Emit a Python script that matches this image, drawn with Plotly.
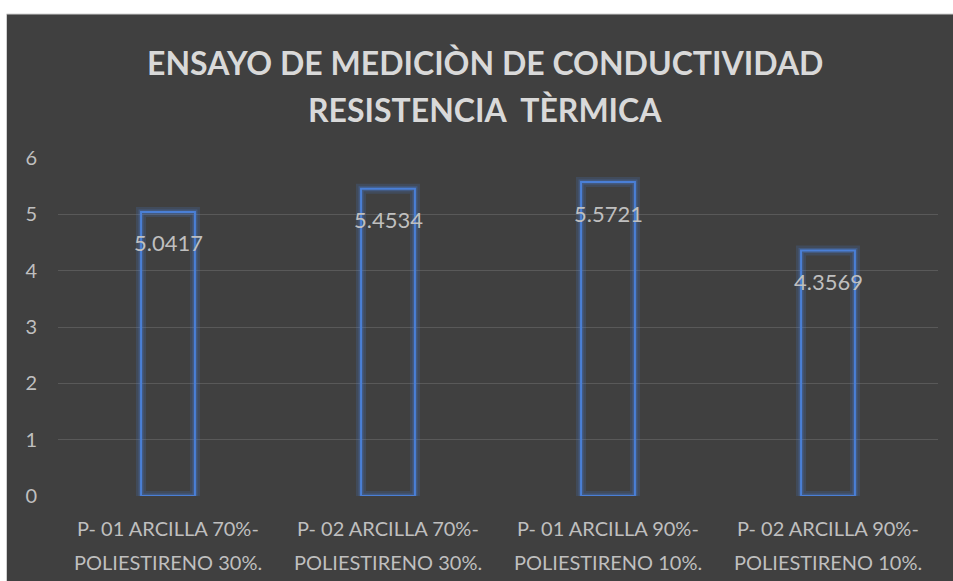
import plotly.graph_objects as go

categorias = ["P- 01 ARCILLA 70%-", "P- 02 ARCILLA 70%-", "P- 01 ARCILLA 90%-", "P- 02 ARCILLA 90%-"]
segunda_linea = ["POLIESTIRENO 30%.", "POLIESTIRENO 30%.", "POLIESTIRENO 10%.", "POLIESTIRENO 10%."]
valores = [5.0417, 5.4534, 5.5721, 4.3569]
etiquetas = ["5.0417", "5.4534", "5.5721", "4.3569"]

titulo_1 = "ENSAYO DE MEDICIÒN DE CONDUCTIVIDAD"
titulo_2 = "RESISTENCIA  TÈRMICA"

W, H = 953, 581
ml, mr, mt, mb = 58, 15, 158, 85
pw, ph = W - ml - mr, H - mt - mb

fondo = "#404040"
gris_texto = "#bfbfbf"
rejilla = "#595959"
azul = "#4a7fd6"
fuente = "Lato"

x = list(range(len(valores)))

fig = go.Figure()
# halo difuso alrededor de las barras
fig.add_trace(go.Bar(x=x, y=valores, width=0.245,
                     marker=dict(color="rgba(0,0,0,0)", line=dict(color="rgba(74,127,214,0.18)", width=10)),
                     hoverinfo="skip"))
fig.add_trace(go.Bar(x=x, y=valores, width=0.245,
                     marker=dict(color="rgba(0,0,0,0)", line=dict(color="rgba(74,127,214,0.3)", width=5)),
                     hoverinfo="skip"))
fig.add_trace(go.Bar(x=x, y=valores, width=0.245,
                     marker=dict(color="rgba(0,0,0,0)", line=dict(color=azul, width=2))))

# etiquetas de datos
for i, v in enumerate(valores):
    fig.add_annotation(x=x[i], y=v, text=etiquetas[i], showarrow=False, yshift=-31, yanchor="middle",
                       font=dict(family=fuente, size=22, color=gris_texto))

# etiquetas del eje x en dos líneas
for i in x:
    fig.add_annotation(x=i, y=0, yref="paper", text=categorias[i], showarrow=False, yshift=-32,
                       yanchor="middle", font=dict(family=fuente, size=20, color=gris_texto))
    fig.add_annotation(x=i, y=0, yref="paper", text=segunda_linea[i], showarrow=False, yshift=-66,
                       yanchor="middle", font=dict(family=fuente, size=20, color=gris_texto))

# título en dos líneas
for texto, yp in [(titulo_1, 62), (titulo_2, 110)]:
    fig.add_annotation(x=(485 - ml) / pw, xref="paper", y=(H - mb - yp) / ph, yref="paper",
                       text=texto, showarrow=False, xanchor="center", yanchor="middle",
                       font=dict(family=fuente, size=32, color="#d9d9d9", weight="bold"))

# líneas verticales entre categorías
for k in range(len(valores) + 1):
    fig.add_shape(type="line", xref="x", yref="paper", x0=k - 0.5, x1=k - 0.5, y0=0, y1=1,
                  line=dict(color=rejilla, width=1), layer="below")

# panel oscuro
fig.add_shape(type="rect", xref="paper", yref="paper",
              x0=(6.5 - ml) / pw, x1=(W + 2 - ml) / pw,
              y0=(-2 - mb) / ph, y1=(H - mb - 14) / ph,
              fillcolor=fondo, line=dict(color="#d0d0d0", width=1), layer="below")

fig.update_layout(
    width=W, height=H,
    margin=dict(l=ml, r=mr, t=mt, b=mb),
    paper_bgcolor="white", plot_bgcolor="rgba(0,0,0,0)",
    barmode="overlay", showlegend=False,
    xaxis=dict(range=[-0.5, 3.5], showticklabels=False, showgrid=False, zeroline=False),
    yaxis=dict(range=[0, 6], dtick=1, showgrid=True, gridcolor=rejilla, gridwidth=1,
               zeroline=False, ticklabelstandoff=20,
               tickfont=dict(family=fuente, size=20, color=gris_texto)),
)

# sin margen en la página para que la figura ocupe toda la ventana
fig.write_html("out.html", config={"displayModeBar": False},
               post_script="document.body.style.margin='0';document.body.style.overflow='hidden';")
